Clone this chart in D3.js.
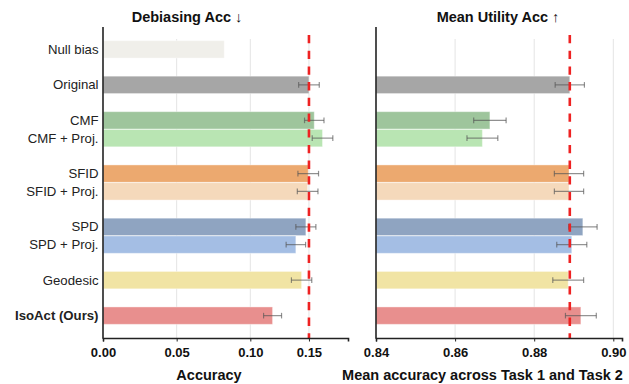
<!DOCTYPE html>
<html>
<head>
<meta charset="utf-8">
<script src="https://cdn.jsdelivr.net/npm/d3@7"></script>
<style>
  body { margin: 0; background: #fff; }
  svg { font-family: "Liberation Sans", Arial, sans-serif; }
  .axis path, .axis line { stroke: #222; }
  .grid line { stroke: #e4e4e4; }
</style>
</head>
<body>
<svg id="chart" width="629" height="384"></svg>
<script>
// groups of methods, drawn top to bottom
var groups = [["Null bias"], ["Original"], ["CMF", "CMF + Proj."], ["SFID", "SFID + Proj."],
              ["SPD", "SPD + Proj."], ["Geodesic"], ["IsoAct (Ours)"]];
var colors = ["#f0efea", "#a6a6a6", "#9ec59c", "#b9e5b3", "#eca96f", "#f5d9bb",
              "#8fa4c1", "#a4bee4", "#f1e4a4", "#e88f8e"];
var debiasAcc = [0.0823, 0.1398, 0.1434, 0.1490, 0.1393, 0.1389, 0.1377, 0.1309, 0.1348, 0.1151];
var debiasErr = [null, 0.0070, 0.0066, 0.0070, 0.0070, 0.0070, 0.0068, 0.0066, 0.0069, 0.0061];
var utilAcc = [null, 0.8890, 0.8688, 0.8669, 0.8888, 0.8888, 0.8923, 0.8895, 0.8886, 0.8918];
var utilErr = [null, 0.0037, 0.0041, 0.0039, 0.0037, 0.0037, 0.0036, 0.0038, 0.0039, 0.0039];
var leftTicks = [0, 0.05, 0.10, 0.1398];
var leftTickLabels = ["0.00", "0.05", "0.10", "0.15"];
var rightTicks = [0.84, 0.86, 0.88, 0.90];

// slot positions from group structure
var methods = [], pos = [], p = 0;
groups.forEach(function (grp) {
  grp.forEach(function (m, i) { methods.push(m); pos.push(p + i * 0.5); });
  p += grp.length * 0.5 + 0.5;
});
var rows = methods.map(function (m, i) {
  return { name: m, pos: pos[i], color: colors[i], d: debiasAcc[i], de: debiasErr[i], u: utilAcc[i], ue: utilErr[i] };
});

var svg = d3.select("#chart");
var top0 = 27, bottom0 = 338, barH = 0.49;
var y = d3.scaleLinear().domain([-0.63, 8.13]).range([top0, bottom0]);
var unit = y(1) - y(0);

function panel(opts) {
  var x = d3.scaleLinear().domain(opts.domain).range(opts.range);
  var g = svg.append("g");
  var x0 = opts.range[0];

  g.append("g").attr("class", "grid")
    .selectAll("line").data(opts.ticks.slice(1)).enter().append("line")
    .attr("x1", function (d) { return x(d); }).attr("x2", function (d) { return x(d); })
    .attr("y1", 39).attr("y2", bottom0);

  var data = rows.filter(function (r) { return r[opts.key] != null; });
  g.selectAll(".bar").data(data).enter().append("rect")
    .attr("class", "bar")
    .attr("x", x0)
    .attr("y", function (d) { return y(d.pos) - barH * unit / 2; })
    .attr("width", function (d) { return x(d[opts.key]) - x0; })
    .attr("height", barH * unit)
    .attr("fill", function (d) { return d.color; })
    .attr("stroke", "#fff").attr("stroke-opacity", 0.4).attr("stroke-width", 1);

  var eb = g.selectAll(".err").data(data.filter(function (r) { return r[opts.ekey] != null; }))
    .enter().append("g").attr("class", "err")
    .attr("stroke", "#555").attr("stroke-opacity", 0.65).attr("stroke-width", 1.2);
  eb.append("line")
    .attr("x1", function (d) { return x(d[opts.key] - d[opts.ekey]); })
    .attr("x2", function (d) { return x(d[opts.key] + d[opts.ekey]); })
    .attr("y1", function (d) { return y(d.pos); }).attr("y2", function (d) { return y(d.pos); });
  [-1, 1].forEach(function (s) {
    eb.append("line")
      .attr("x1", function (d) { return x(d[opts.key] + s * d[opts.ekey]); })
      .attr("x2", function (d) { return x(d[opts.key] + s * d[opts.ekey]); })
      .attr("y1", function (d) { return y(d.pos) - 2.8; }).attr("y2", function (d) { return y(d.pos) + 2.8; });
  });

  // reference line at the Original value
  g.append("line")
    .attr("x1", x(opts.ref)).attr("x2", x(opts.ref))
    .attr("y1", 35).attr("y2", bottom0)
    .attr("stroke", "#ee2222").attr("stroke-width", 2.6).attr("stroke-dasharray", "8.3,7.4");

  var xa = d3.axisBottom(x).tickValues(opts.ticks).tickSize(3.5).tickPadding(6)
    .tickFormat(function (d, i) { return opts.labels ? opts.labels[i] : d3.format(".2f")(d); });
  g.append("g").attr("class", "axis")
    .attr("transform", "translate(0," + bottom0 + ")")
    .call(xa)
    .call(function (a) {
      a.select(".domain").attr("stroke-width", 1.6);
      a.selectAll("text").attr("font-size", 13).attr("font-weight", "bold").attr("fill", "#111")
        .attr("font-family", "Liberation Sans, Arial, sans-serif");
    });

  g.append("line").attr("x1", x0).attr("x2", x0).attr("y1", top0).attr("y2", bottom0 + 0.8)
    .attr("stroke", "#222").attr("stroke-width", 1.6);

  g.append("text").attr("x", opts.titleX).attr("y", 22).attr("text-anchor", "middle")
    .attr("font-size", 14.5).attr("font-weight", "bold").attr("fill", "#111").text(opts.title);
  g.append("text").attr("x", opts.labelX).attr("y", 380).attr("text-anchor", "middle")
    .attr("font-size", 14.5).attr("font-weight", "bold").attr("fill", "#111").text(opts.xlabel);
  return g;
}

var left = panel({ domain: [0, 0.1663], range: [103, 348], key: "d", ekey: "de",
  ticks: leftTicks, labels: leftTickLabels, ref: debiasAcc[1],
  title: "Debiasing Acc \u2193", titleX: 187, xlabel: "Accuracy", labelX: 209 });
panel({ domain: [0.84, 0.9022], range: [376, 622], key: "u", ekey: "ue",
  ticks: rightTicks, ref: utilAcc[1],
  title: "Mean Utility Acc \u2191", titleX: 498, xlabel: "Mean accuracy across Task 1 and Task 2", labelX: 482.5 });

left.selectAll(".ylab").data(rows).enter().append("text")
  .attr("class", "ylab")
  .attr("x", 98.5).attr("y", function (d) { return y(d.pos); })
  .attr("dy", "0.35em").attr("text-anchor", "end")
  .attr("font-size", 13.2).attr("fill", "#222")
  .attr("font-weight", function (d) { return d.name.indexOf("Ours") >= 0 ? "bold" : "normal"; })
  .text(function (d) { return d.name; });
</script>
</body>
</html>
